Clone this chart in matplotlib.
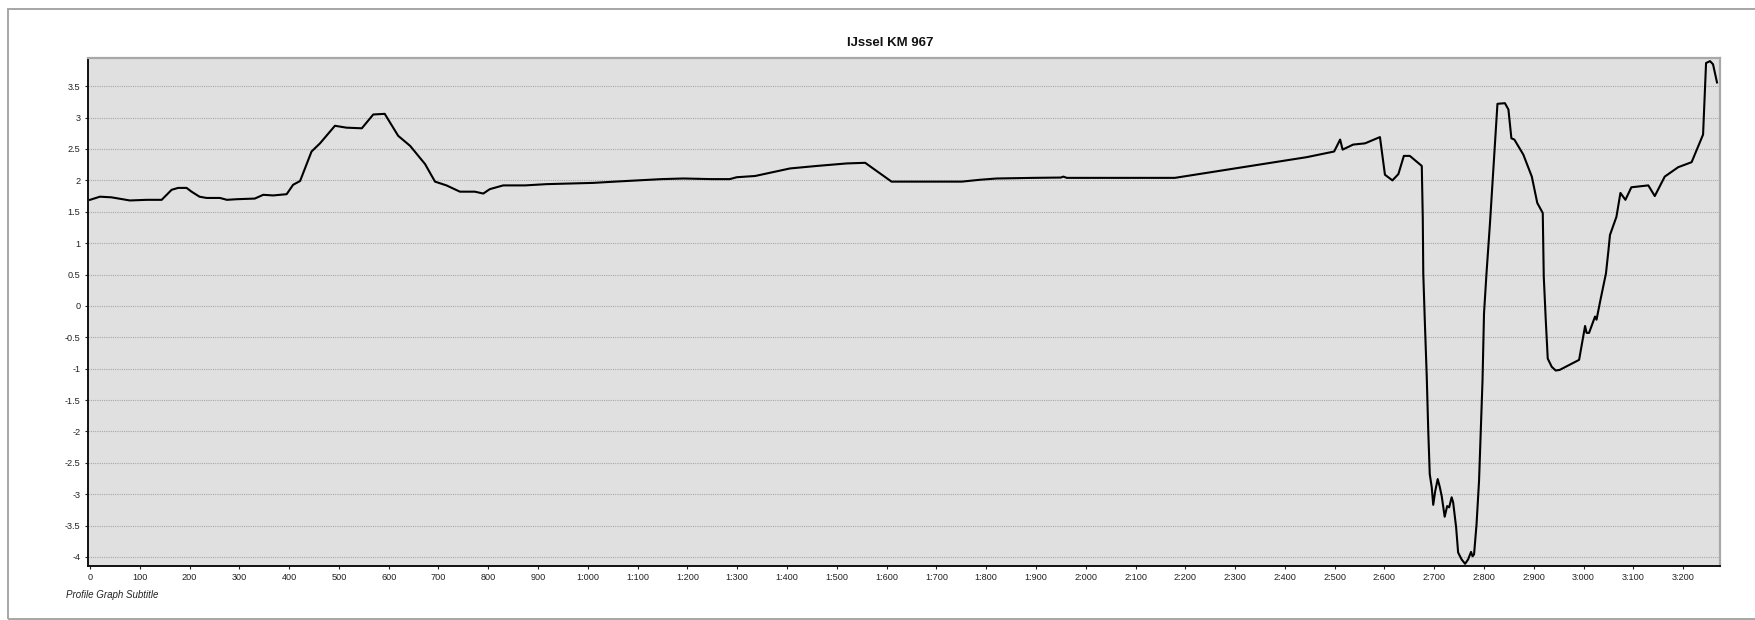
import matplotlib
matplotlib.use("Agg")
import matplotlib.pyplot as plt
from matplotlib.patches import Rectangle
from matplotlib.ticker import FuncFormatter, MultipleLocator

plt.rcParams['font.family'] = ['Liberation Sans', 'DejaVu Sans']
plt.rcParams['axes.unicode_minus'] = False

# ---- data ----
title = "IJssel KM 967"
subtitle = "Profile Graph Subtitle"

distance = [
    0, 20, 43, 80, 114, 144, 164, 177, 194, 204,
    220, 234, 261, 275, 295, 331, 348, 368, 395, 408,
    422, 445, 462, 492, 515, 546, 569, 592, 619, 643,
    673, 693, 716, 743, 773, 790, 803, 830, 874, 917,
    964, 1011, 1054, 1101, 1148, 1192, 1249, 1285, 1299, 1336,
    1406, 1460, 1520, 1557, 1610, 1751, 1788, 1821, 1895, 1950,
    1955, 1962, 2179, 2444, 2499, 2511, 2516, 2537, 2561, 2591,
    2601, 2616, 2628, 2639, 2651, 2675, 2677, 2678, 2681, 2685,
    2688, 2691, 2695, 2698, 2702, 2707, 2711, 2715, 2721, 2726,
    2730, 2735, 2738, 2744, 2748, 2755, 2762, 2768, 2774, 2777,
    2780, 2785, 2790, 2794, 2797, 2800, 2805, 2812, 2827, 2842,
    2849, 2855, 2861, 2879, 2896, 2907, 2918, 2920, 2924, 2928,
    2936, 2944, 2952, 2991, 3003, 3006, 3011, 3023, 3026, 3034,
    3045, 3050, 3053, 3066, 3074, 3084, 3096, 3130, 3143, 3163,
    3190, 3217, 3240, 3246, 3254, 3260, 3268,
]

elevation = [
    1.69, 1.74, 1.73, 1.68, 1.69, 1.69, 1.85, 1.88, 1.88, 1.82,
    1.74, 1.72, 1.72, 1.69, 1.70, 1.71, 1.77, 1.76, 1.78, 1.93,
    1.99, 2.46, 2.59, 2.87, 2.84, 2.83, 3.05, 3.06, 2.71, 2.55,
    2.26, 1.98, 1.92, 1.82, 1.82, 1.79, 1.86, 1.92, 1.92, 1.94,
    1.95, 1.96, 1.98, 2.00, 2.02, 2.03, 2.02, 2.02, 2.05, 2.07,
    2.19, 2.23, 2.27, 2.28, 1.98, 1.98, 2.01, 2.03, 2.04, 2.045,
    2.06, 2.04, 2.04, 2.37, 2.46, 2.65, 2.49, 2.57, 2.59, 2.69,
    2.09, 2.00, 2.10, 2.39, 2.39, 2.23, 1.40, 0.52, -0.22, -1.13,
    -1.99, -2.68, -2.89, -3.17, -2.95, -2.76, -2.88, -3.03, -3.36, -3.19,
    -3.21, -3.05, -3.13, -3.53, -3.93, -4.04, -4.11, -4.04, -3.92, -3.99,
    -3.96, -3.48, -2.79, -1.88, -1.19, -0.12, 0.52, 1.32, 3.22, 3.23,
    3.13, 2.67, 2.65, 2.41, 2.06, 1.64, 1.48, 0.47, -0.22, -0.84,
    -0.97, -1.03, -1.02, -0.86, -0.32, -0.43, -0.43, -0.17, -0.22, 0.10,
    0.52, 0.89, 1.13, 1.42, 1.80, 1.69, 1.89, 1.92, 1.75, 2.06,
    2.21, 2.29, 2.73, 3.87, 3.90, 3.85, 3.56,
]

x_ticks = list(range(0, 3201, 100))
y_ticks = [v * 0.5 for v in range(-8, 8)]

# ---- figure ----
W, H = 1755, 620
fig = plt.figure(figsize=(W / 100, H / 100), dpi=100)
fig.patch.set_facecolor('white')

# outer grey frame
fig.add_artist(Rectangle((8 / W, 1 - 619 / H), (W + 20 - 8) / W, (619 - 9) / H,
                         transform=fig.transFigure, fill=False,
                         edgecolor='#a6a6a6', linewidth=1.4, clip_on=False))

left, right, top, bottom = 87.5, 1720, 58, 565.7
ax = fig.add_axes([left / W, 1 - bottom / H, (right - left) / W, (bottom - top) / H])
ax.set_facecolor('#e0e0e0')

ax.plot(distance, elevation, color='black', linewidth=1.5, solid_joinstyle='round')

ax.set_xlim(-5, 3274)
ax.set_ylim(-4.14, 3.95)

ax.set_xticks(x_ticks)
ax.set_yticks(y_ticks)


def fmt_x(v, pos):
    v = int(round(v))
    if v >= 1000:
        return f"{v // 1000}:{v % 1000:03d}"
    return str(v)


ax.xaxis.set_major_formatter(FuncFormatter(fmt_x))
ax.yaxis.set_major_formatter(FuncFormatter(lambda v, p: f"{v:g}"))

ax.grid(axis='y', color='#a8a8a8', linestyle=(0, (1, 1)), linewidth=0.8)
ax.set_axisbelow(True)

ax.tick_params(axis='both', direction='out', length=2.5, width=0.8,
               colors='#222222', labelsize=6.6, pad=2.5)
ax.tick_params(axis='x', pad=3)

for side in ['left', 'bottom']:
    ax.spines[side].set_color('#111111')
    ax.spines[side].set_linewidth(1.4)
for side in ['top', 'right']:
    ax.spines[side].set_color('#a8a8a8')
    ax.spines[side].set_linewidth(1.6)

fig.text(890 / W, 1 - 42.5 / H, title, ha='center', va='center',
         fontsize=9.5, fontweight='bold', color='#111111')
fig.text(66 / W, 1 - 595 / H, subtitle, ha='left', va='center',
         fontsize=7, style='italic', color='#222222')

fig.savefig('out.png', dpi=100, facecolor='white')
